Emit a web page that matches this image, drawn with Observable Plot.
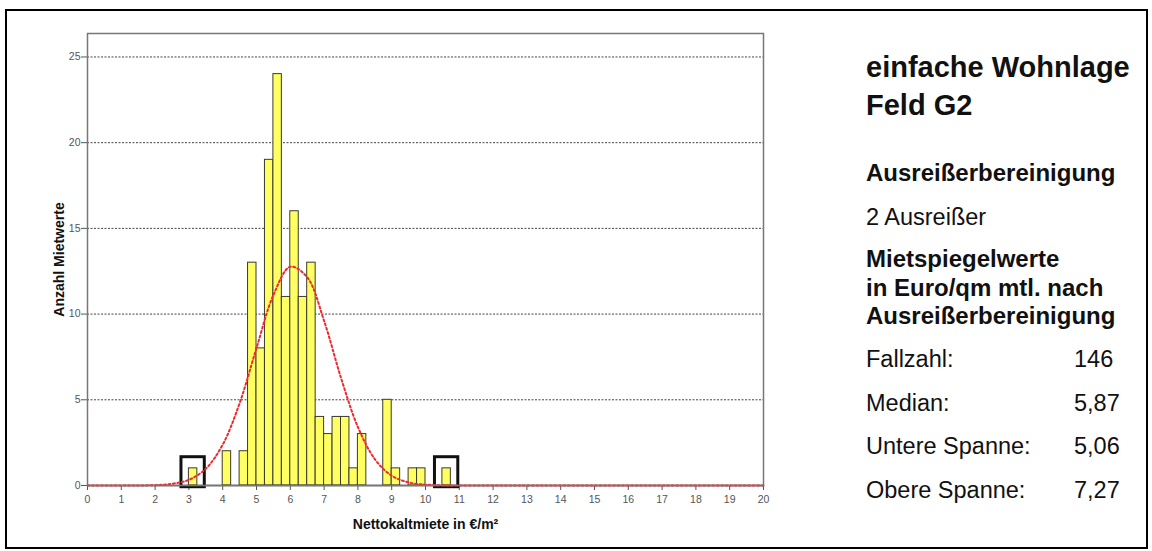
<!DOCTYPE html>
<html>
<head>
<meta charset="utf-8">
<script src="https://cdn.jsdelivr.net/npm/d3@7"></script>
<script src="https://cdn.jsdelivr.net/npm/@observablehq/plot@0.6"></script>
<style>
  html, body { margin: 0; padding: 0; background: #fff; }
  #page { position: relative; width: 1152px; height: 551px; overflow: hidden; background: #fff; }
  #border { position: absolute; left: 5px; top: 9px; width: 1143px; height: 540px; box-sizing: border-box; border: 2px solid #000; }
  #chart { position: absolute; left: 0; top: 0; }
  #panel { position: absolute; left: 0; top: 0; }
</style>
</head>
<body>
<div id="page">
  <div id="border"></div>
  <div id="chart"></div>
  <svg id="panel" width="1152" height="551"></svg>
</div>
<script>
// Histogram of net rents (€/m²), bins of 0.25 €/m²: lower bin edge and count
const binLow = [3.0, 4.0, 4.5, 4.75, 5.0, 5.25, 5.5, 5.75, 6.0, 6.25, 6.5, 6.75, 7.0, 7.25, 7.5, 7.75, 8.0, 8.75, 9.0, 9.5, 9.75, 10.5];
const counts = [1, 2, 2, 13, 8, 19, 24, 11, 16, 11, 13, 4, 3, 4, 4, 1, 3, 5, 1, 1, 1, 1];
const binWidth = 0.25;

// Bins holding the two removed outliers
const outlierBins = [3.0, 10.5];

// Fitted normal curve (scaled to counts per bin)
const curveX = [0, 1, 1.5, 2, 2.5, 3, 3.5, 4, 4.5, 5, 5.5, 6, 6.5, 7, 7.5, 8, 8.5, 9, 9.5, 10, 10.5, 11, 12, 20];
const curveY = [0, 0, 0.004, 0.02, 0.1, 0.33, 0.98, 2.38, 4.8, 8.02, 11.11, 12.76, 12.15, 9.6, 6.28, 3.41, 1.54, 0.57, 0.18, 0.05, 0.01, 0, 0, 0];

// Axis ticks
const xTicks = [0, 1, 2, 3, 4, 5, 6, 7, 8, 9, 10, 11, 12, 13, 14, 15, 16, 17, 18, 19, 20];
const yTicks = [0, 5, 10, 15, 20, 25];
const gridLines = [5, 10, 15, 20, 25];

// Side panel texts
const titleLines = ["einfache Wohnlage", "Feld G2"];
const outlierHeading = "Ausreißerbereinigung";
const outlierNote = "2 Ausreißer";
const valuesHeading = ["Mietspiegelwerte", "in Euro/qm mtl. nach", "Ausreißerbereinigung"];
const statLabels = ["Fallzahl:", "Median:", "Untere Spanne:", "Obere Spanne:"];
const statValues = ["146", "5,87", "5,06", "7,27"];

const bins = binLow.map((lo, i) => ({x1: lo, x2: lo + binWidth, y: counts[i]}));
const curve = curveX.map((x, i) => ({x, y: curveY[i]}));
const boxes = outlierBins.map(lo => ({x1: lo - 0.22, x2: lo + binWidth + 0.22, y1: -0.1, y2: 1.65}));

const chart = Plot.plot({
  width: 800,
  height: 551,
  marginLeft: 87,
  marginRight: 37,
  marginTop: 33,
  marginBottom: 66,
  style: {fontFamily: "'Liberation Sans', Arial, sans-serif", fontSize: "10.5px", color: "#555", background: "transparent"},
  x: {domain: [0, 20], ticks: xTicks, tickSize: 5, tickPadding: 5, label: null},
  y: {domain: [0, 26.37], ticks: yTicks, tickSize: 6, tickPadding: 1, label: null},
  marks: [
    Plot.ruleY(gridLines, {stroke: "#444", strokeWidth: 1, strokeDasharray: "2,1.5"}),
    Plot.rectY(bins, {x1: "x1", x2: "x2", y: "y", fill: "#ffff62", stroke: "#3a3a30", strokeWidth: 1, inset: 0}),
    Plot.rect(boxes, {x1: "x1", x2: "x2", y1: "y1", y2: "y2", fill: "none", stroke: "#111", strokeWidth: 3}),
    Plot.ruleY([0], {stroke: "#333", strokeWidth: 1.5}),
    Plot.line(curve, {x: "x", y: "y", curve: "catmull-rom", stroke: "#ee2a30", strokeWidth: 2, strokeDasharray: "2,2.5"}),
    Plot.frame({stroke: "#777", strokeWidth: 1.5}),
    Plot.text(["Nettokaltmiete in €/m²"], {frameAnchor: "bottom", lineAnchor: "middle", textAnchor: "middle", dy: 39, fontSize: 14, fontWeight: "bold", fill: "#111", fontFamily: "'Liberation Sans', Arial, sans-serif"}),
    Plot.text(["Anzahl Mietwerte"], {frameAnchor: "left", textAnchor: "middle", lineAnchor: "middle", rotate: -90, dx: -28, fontSize: 14, fontWeight: "bold", fill: "#111", fontFamily: "'Liberation Sans', Arial, sans-serif"})
  ]
});
document.getElementById("chart").appendChild(chart);

// Side panel with the key figures
const panel = d3.select("#panel")
  .style("font-family", "'Liberation Sans', Arial, sans-serif")
  .attr("fill", "#111");
const px = 866;

panel.selectAll("text.title").data(titleLines).join("text")
  .attr("class", "title").attr("x", px).attr("y", (d, i) => 77 + i * 38)
  .attr("font-size", 29).attr("font-weight", "bold").text(d => d);

panel.append("text").attr("x", px).attr("y", 181)
  .attr("font-size", 24).attr("font-weight", "bold").text(outlierHeading);
panel.append("text").attr("x", px).attr("y", 225)
  .attr("font-size", 23.5).text(outlierNote);

panel.selectAll("text.vh").data(valuesHeading).join("text")
  .attr("class", "vh").attr("x", px).attr("y", (d, i) => 267 + i * 28.7)
  .attr("font-size", 24).attr("font-weight", "bold").text(d => d);

panel.selectAll("text.sl").data(statLabels).join("text")
  .attr("class", "sl").attr("x", px).attr("y", (d, i) => 367 + i * 43.5)
  .attr("font-size", 23.5).text(d => d);
panel.selectAll("text.sv").data(statValues).join("text")
  .attr("class", "sv").attr("x", 1074).attr("y", (d, i) => 367 + i * 43.5)
  .attr("font-size", 23.5).text(d => d);
</script>
</body>
</html>
